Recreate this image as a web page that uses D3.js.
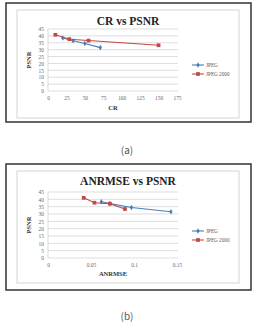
<!DOCTYPE html>
<html>
<head>
<meta charset="utf-8">
<script src="https://cdn.jsdelivr.net/npm/d3@7"></script>
<style>
  body { margin: 0; background: #fff; }
  svg { display: block; }
</style>
</head>
<body>
<svg id="fig" width="256" height="324"></svg>
<script>
// chart data
const seriesNames = ["JPEG", "JPEG 2000"];
const crJpeg = [20, 34, 50, 71];
const psnrJpeg = [38.5, 36.5, 34.5, 31.5];
const crJ2k = [10, 29, 55, 150];
const psnrJ2k = [40.8, 37.6, 36.6, 33.2];
const anrmseJpeg = [0.062, 0.072, 0.097, 0.143];
const psnrJpegB = [38.3, 37.1, 34.4, 31.5];
const anrmseJ2k = [0.0415, 0.054, 0.072, 0.0895];
const psnrJ2kB = [41.0, 37.7, 37.0, 33.4];
const yTicks = [0, 5, 10, 15, 20, 25, 30, 35, 40, 45];
const crTicks = [0, 25, 50, 75, 100, 125, 150, 175];
const anrmseTicks = [0, 0.05, 0.1, 0.15];

const colors = { "JPEG": "#4a7ebb", "JPEG 2000": "#be4b48" };
const serif = "'Liberation Serif', 'DejaVu Serif', serif";

const svg = d3.select("#fig");

function drawPanel(top, cfg) {
	const g = svg.append("g").attr("transform", `translate(0,${top})`);

	// outer frame and inner chart area
	g.append("rect").attr("x", 6).attr("y", 0).attr("width", 245).attr("height", cfg.frameH)
		.attr("fill", "none").attr("stroke", "#333").attr("stroke-width", 1.5);
	g.append("rect").attr("x", 17).attr("y", cfg.innerTop).attr("width", 222).attr("height", cfg.innerH)
		.attr("fill", "#fff").attr("stroke", "#d4d4d4").attr("stroke-width", 1);

	g.append("text").attr("x", 128).attr("y", cfg.titleY)
		.attr("text-anchor", "middle").attr("font-family", serif)
		.attr("font-weight", "bold").attr("font-size", 11.5).attr("fill", "#222")
		.text(cfg.title);

	const x = d3.scaleLinear().domain(cfg.xDomain).range([48, 177]);
	const y = d3.scaleLinear().domain([0, 45]).range([cfg.y0, cfg.y45]);

	// gridlines
	g.append("g").selectAll("line").data(yTicks).join("line")
		.attr("x1", 48).attr("x2", 178)
		.attr("y1", d => y(d)).attr("y2", d => y(d))
		.attr("stroke", "#d0d0d0").attr("stroke-width", 0.7);
	g.append("line").attr("x1", 48).attr("x2", 48).attr("y1", y(0)).attr("y2", y(45))
		.attr("stroke", "#c8c8c8").attr("stroke-width", 0.7);

	const yAxis = g.append("g").attr("transform", "translate(45,0)")
		.call(d3.axisLeft(y).tickValues(yTicks).tickSize(0).tickPadding(1));
	yAxis.select(".domain").remove();
	yAxis.selectAll("text").attr("font-family", serif).attr("font-size", 5.4).attr("fill", "#666");

	const xAxis = g.append("g").attr("transform", `translate(0,${y(0) + 4})`)
		.call(d3.axisBottom(x).tickValues(cfg.xTicks).tickFormat(cfg.fmt).tickSize(0).tickPadding(1));
	xAxis.select(".domain").remove();
	xAxis.selectAll("text").attr("font-family", serif).attr("font-size", 5.4).attr("fill", "#666");

	g.append("text").attr("x", 113).attr("y", cfg.xTitleY).attr("text-anchor", "middle")
		.attr("font-family", serif).attr("font-weight", "bold").attr("font-size", 6.5).attr("fill", "#333")
		.text(cfg.xTitle);
	g.append("text").attr("transform", `translate(31,${(y(0) + y(45)) / 2}) rotate(-90)`)
		.attr("text-anchor", "middle")
		.attr("font-family", serif).attr("font-weight", "bold").attr("font-size", 6.5).attr("fill", "#333")
		.text("PSNR");

	const line = d3.line().x(d => x(d[0])).y(d => y(d[1]));
	cfg.series.forEach((s, i) => {
		const pts = d3.zip(s.xs, s.ys);
		const c = colors[seriesNames[i]];
		g.append("path").datum(pts).attr("d", line)
			.attr("fill", "none").attr("stroke", c).attr("stroke-width", 1.1);
		const sym = d3.symbol().type(i === 0 ? d3.symbolDiamond : d3.symbolSquare).size(i === 0 ? 9 : 14);
		g.append("g").selectAll("path").data(pts).join("path")
			.attr("transform", d => `translate(${x(d[0])},${y(d[1])})`)
			.attr("d", sym).attr("fill", c);
	});

	// legend
	seriesNames.forEach((name, i) => {
		const ly = cfg.legendY + i * 9;
		const c = colors[name];
		g.append("line").attr("x1", 192).attr("x2", 204).attr("y1", ly).attr("y2", ly)
			.attr("stroke", c).attr("stroke-width", 1.1);
		g.append("path").attr("transform", `translate(198,${ly})`)
			.attr("d", d3.symbol().type(i === 0 ? d3.symbolDiamond : d3.symbolSquare).size(i === 0 ? 9 : 14))
			.attr("fill", c);
		g.append("text").attr("x", 206).attr("y", ly + 1.8)
			.attr("font-family", serif).attr("font-size", 5.2).attr("fill", "#555")
			.text(name);
	});

	svg.append("text").attr("x", 127).attr("y", top + cfg.captionY)
		.attr("text-anchor", "middle").attr("font-family", "'Noto Sans CJK KR', 'Noto Sans', sans-serif")
		.attr("font-size", 10).attr("fill", "#555")
		.text(cfg.caption);
}

drawPanel(3, {
	frameH: 119, innerTop: 7, innerH: 108, titleY: 22,
	title: "CR vs PSNR", xTitle: "CR", xTitleY: 107,
	xDomain: [0, 175], xTicks: crTicks, fmt: d3.format("d"),
	y0: 88, y45: 26, legendY: 62,
	series: [{ xs: crJpeg, ys: psnrJpeg }, { xs: crJ2k, ys: psnrJ2k }],
	caption: "(a)", captionY: 151
});

drawPanel(164, {
	frameH: 126, innerTop: 7, innerH: 112, titleY: 21,
	title: "ANRMSE vs PSNR", xTitle: "ANRMSE", xTitleY: 112,
	xDomain: [0, 0.15], xTicks: anrmseTicks, fmt: d => d === 0 ? "0" : String(d),
	y0: 94, y45: 28, legendY: 67,
	series: [{ xs: anrmseJpeg, ys: psnrJpegB }, { xs: anrmseJ2k, ys: psnrJ2kB }],
	caption: "(b)", captionY: 155.5
});
</script>
</body>
</html>
